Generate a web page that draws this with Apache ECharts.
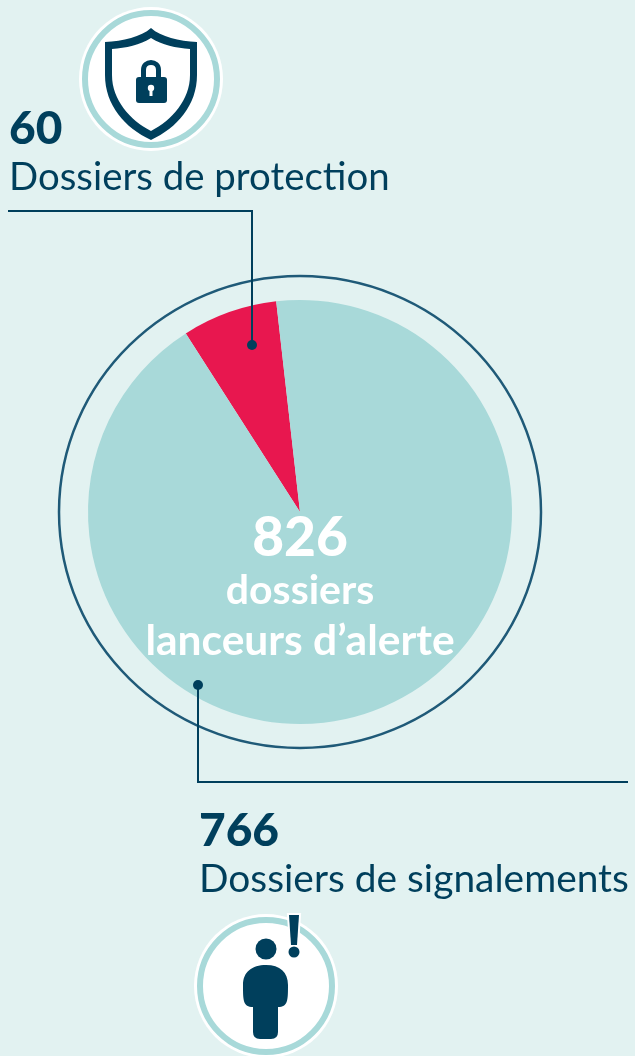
<!DOCTYPE html>
<html>
<head>
<meta charset="utf-8">
<style>
  html, body { margin: 0; padding: 0; background: #e2f2f1; }
  #chart { width: 635px; height: 1056px; }
</style>
<script src="https://cdn.jsdelivr.net/npm/echarts@6/dist/echarts.min.js"></script>
</head>
<body>
<div id="chart"></div>
<script>
const categories = ["Dossiers de protection", "Dossiers de signalements"];
const values = [60, 766];
const sliceColors = ["#e8174f", "#a8d9d9"];
const totalValue = 826;
const centerLines = ["dossiers", "lanceurs d’alerte"];

const navy = "#003f5c";
const ringTeal = "#a8d9d9";
const fontName = "Lato";

const myChart = echarts.init(document.getElementById("chart"));

// icon outlines, graphic has no plain svg path type so register them as shapes
const iconPaths = {
  shieldOuter: "M151 28C141 37 123 41 105 42L105 75C105 105 125 128 151 140C177 128 197 105 197 75L197 42C179 41 161 37 151 28Z",
  shieldInner: "M151 38C140 45 126 48 112 49L112 75C112 100 130 120 151 131C172 120 190 100 190 75L190 49C176 48 162 45 151 38Z",
  shackle: "M143.500 80L143.500 70C143.500 60 158.500 60 158.500 70L158.500 80",
  body: "M266 965C252 965 243 972 243 985C243 1000 243 1007 253 1007L253 1032Q253 1039 260 1039L271 1039Q278 1039 278 1032L278 1007C288 1007 288 1000 288 985C288 972 280 965 266 965Z",
  bang: "M289 915L299 915L297 945L291 945Z",
};
Object.keys(iconPaths).forEach((name) => {
  echarts.graphic.registerShape(name, echarts.graphic.extendPath(iconPaths[name], {}));
});

function label(x, y, text, size, weight, color, align) {
  return {
    type: "text",
    z: 20,
    style: {
      x: x,
      y: y,
      text: text,
      fill: color || navy,
      font: `${weight} ${size}px ${fontName}`,
      textAlign: align || "left",
      textVerticalAlign: "middle",
    },
  };
}

function badge(cx, cy) {
  return [
    { type: "circle", z: 5, shape: { cx: cx, cy: cy, r: 72 }, style: { fill: "#fff" } },
    { type: "circle", z: 6, shape: { cx: cx, cy: cy, r: 66 }, style: { fill: "#fff", stroke: ringTeal, lineWidth: 6 } },
  ];
}

function icon(name, style, z) {
  return { type: name, z: z || 7, style: style };
}

const option = {
  backgroundColor: "#e2f2f1",
  animation: false,
  tooltip: { show: false },
  series: [
    {
      type: "pie",
      center: [300, 512],
      radius: [0, 212],
      startAngle: 122.6,
      silent: true,
      label: { show: false },
      labelLine: { show: false },
      data: categories.map((name, i) => ({
        name: name,
        value: values[i],
        itemStyle: { color: sliceColors[i] },
      })),
    },
  ],
  graphic: {
    elements: [
      // outer ring round the pie
      { type: "ellipse", z: 1, shape: { cx: 300, cy: 512, rx: 241, ry: 236 }, style: { fill: "none", stroke: "#1f5a78", lineWidth: 2.5 } },

      // leader lines
      { type: "polyline", z: 10, shape: { points: [[8, 211], [252, 211], [252, 345]] }, style: { fill: "none", stroke: navy, lineWidth: 2 } },
      { type: "circle", z: 10, shape: { cx: 252, cy: 345, r: 5 }, style: { fill: navy } },
      { type: "polyline", z: 10, shape: { points: [[198, 685], [198, 782], [628, 782]] }, style: { fill: "none", stroke: navy, lineWidth: 2 } },
      { type: "circle", z: 10, shape: { cx: 198, cy: 685, r: 5 }, style: { fill: navy } },

      // shield badge
      ...badge(151, 79),
      icon("shieldOuter", { fill: navy }),
      icon("shieldInner", { fill: "#fff" }, 8),
      icon("shackle", { fill: "none", stroke: navy, lineWidth: 5 }, 9),
      { type: "rect", z: 9, shape: { x: 136, y: 77, width: 31, height: 26, r: 3 }, style: { fill: navy } },
      { type: "circle", z: 10, shape: { cx: 151, cy: 88, r: 3.2 }, style: { fill: "#fff" } },
      { type: "rect", z: 10, shape: { x: 149.5, y: 88, width: 3, height: 8 }, style: { fill: "#fff" } },

      // person badge
      ...badge(266, 986),
      { type: "circle", z: 7, shape: { cx: 266, cy: 949, r: 10.5 }, style: { fill: navy } },
      icon("body", { fill: navy }),
      icon("bang", { fill: navy, stroke: "#fff", lineWidth: 4 }, 7),
      icon("bang", { fill: navy }, 8),
      { type: "circle", z: 7, shape: { cx: 294, cy: 952, r: 5.5 }, style: { fill: navy } },

      // texts
      label(9, 129, String(values[0]), 46, 900),
      label(9, 178, categories[0], 38.4, 400),
      label(199, 831, String(values[1]), 46, 900),
      label(199, 879, categories[1], 38.9, 400),
      label(300, 538, String(totalValue), 55, 900, "#fff", "center"),
      label(300, 591, centerLines[0], 41, 700, "#fff", "center"),
      label(300, 641, centerLines[1], 42.5, 700, "#fff", "center"),
    ],
  },
};

myChart.setOption(option);
</script>
</body>
</html>
